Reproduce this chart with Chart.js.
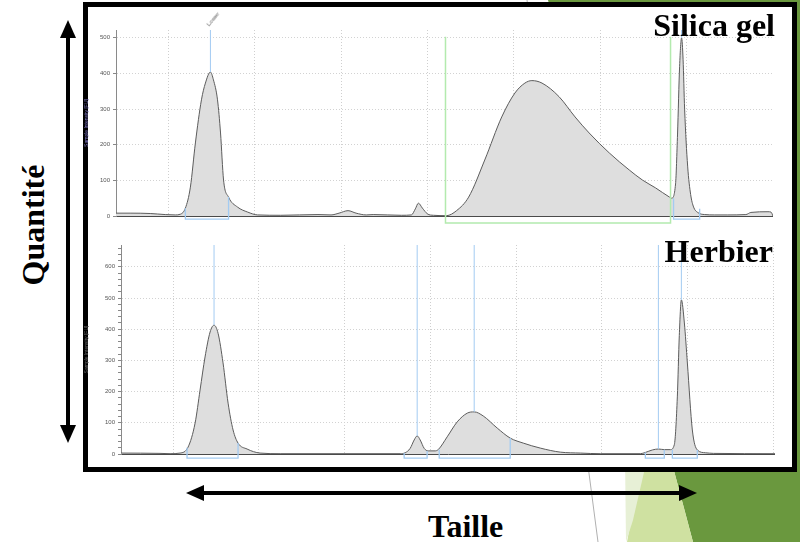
<!DOCTYPE html>
<html>
<head>
<meta charset="utf-8">
<script src="https://cdn.jsdelivr.net/npm/chart.js"></script>
<style>
  html, body { margin: 0; padding: 0; background: #fff; }
  #page { position: relative; width: 800px; height: 542px; overflow: hidden; }
  #bg, #arrows { position: absolute; left: 0; top: 0; }
  #frame { position: absolute; left: 83px; top: 2px; width: 704px; height: 460px;
           border: 5px solid #000; background: #fff; }
  canvas { position: absolute; }
  .big { position: absolute; font: bold 32px "Liberation Serif", "Times New Roman", serif;
         line-height: 1; color: #000; white-space: nowrap; }
  .tag { position: absolute; font: 6px Arial, sans-serif; color: #666; white-space: nowrap; }
</style>
</head>
<body>
<div id="page">
  <svg id="bg" width="800" height="542">
    <line x1="527" y1="0" x2="598" y2="542" stroke="#b0b0b0" stroke-width="1"/>
    <polygon points="548,0 800,0 800,542 693,542" fill="#6a983e"/>
    <polygon points="654,395 693,542 627,542" fill="#cfe1a1"/>
    <polygon points="625,455 648,455 633,520 626,542" fill="#e7f0d6"/>
  </svg>
  <div id="frame"></div>
  <canvas id="top" width="689" height="218" style="left:84px;top:8px"></canvas>
  <canvas id="bottom" width="691" height="234" style="left:84px;top:230px"></canvas>
  <span class="tag" style="left:213px;top:19px;transform:translate(-50%,-50%) rotate(-50deg);">Lower</span>
  <div class="big" style="right:25px;top:9px;">Silica gel</div>
  <div class="big" style="right:27px;top:235px;">Herbier</div>
  <div class="big" style="left:428px;top:510px;">Taille</div>
  <div class="big" style="left:33px;top:225px;transform:translate(-50%,-50%) rotate(-90deg);">Quantité</div>
  <svg id="arrows" width="800" height="542">
    <line x1="68" y1="34" x2="68" y2="429" stroke="#000" stroke-width="4"/>
    <polygon points="68,20 60,38 76,38" fill="#000"/>
    <polygon points="68,443 60,425 76,425" fill="#000"/>
    <line x1="200" y1="493" x2="683" y2="493" stroke="#000" stroke-width="4"/>
    <polygon points="186,493 204,485 204,501" fill="#000"/>
    <polygon points="697,493 679,485 679,501" fill="#000"/>
  </svg>
</div>
<script>
// size axis positions (arbitrary run units) and intensities [FU]
const topSize = [-0.605, -0.442, -0.209, -0.035, 0.081, 0.140, 0.198, 0.256, 0.314, 0.384, 0.430, 0.488, 0.523, 0.570, 0.605, 0.640, 0.698, 0.802, 0.919, 1.035, 1.302, 1.733, 1.884, 1.977, 2.081, 2.174, 2.291, 2.372, 2.698, 2.814, 2.860, 2.895, 2.942, 3.000, 3.070, 3.221, 3.337, 3.477, 3.663, 3.860, 4.012, 4.128, 4.209, 4.326, 4.523, 4.709, 4.872, 5.105, 5.337, 5.488, 5.640, 5.802, 5.826, 5.872, 5.895, 5.919, 5.942, 5.959, 5.977, 6.012, 6.047, 6.081, 6.128, 6.209, 6.326, 6.477, 6.686, 6.744, 6.942, 6.977, 7.0];
const topSignal = [8, 8, 7, 4, 3, 5, 22, 81, 205, 326, 373, 404, 382, 326, 233, 101, 53, 25, 11, 3, 2, 4, 3, 8, 15, 8, 3, 4, 2, 3, 20, 36, 22, 6, 2, 1, 15, 53, 157, 278, 345, 373, 380, 373, 335, 278, 233, 177, 129, 101, 79, 53, 50, 90, 230, 420, 500, 440, 300, 140, 60, 25, 10, 4, 3, 3, 4, 10, 12, 11, 0];

const botSize = [-0.607, -0.152, -0.035, 0.082, 0.175, 0.257, 0.315, 0.373, 0.432, 0.478, 0.525, 0.583, 0.642, 0.700, 0.758, 0.863, 1.015, 1.249, 2.649, 2.707, 2.765, 2.812, 2.847, 2.882, 2.929, 2.975, 3.057, 3.092, 3.197, 3.314, 3.431, 3.512, 3.617, 3.781, 3.932, 4.084, 4.282, 4.516, 4.749, 4.982, 5.449, 5.508, 5.590, 5.660, 5.729, 5.799, 5.846, 5.881, 5.904, 5.928, 5.963, 5.998, 6.056, 6.114, 6.208, 6.301, 7.02];
const botSignal = [3, 2, 1, 3, 22, 99, 205, 311, 391, 413, 387, 292, 163, 77, 35, 16, 3, 1, 1, 4, 18, 45, 58, 45, 18, 10, 10, 14, 55, 103, 131, 135, 122, 83, 51, 35, 19, 6, 3, 1, 1, 5, 13, 16, 14, 14, 30, 183, 380, 494, 420, 292, 77, 13, 4, 2, 1];

// peak markers: position and the height where the marker line starts
const topMarkers = [0.488, 5.942];
const topMarkerPeaks = [404, 500];
const botMarkers = [0.478, 2.847, 3.512, 5.660, 5.928];
const botMarkerPeaks = [413, 58, 135, 16, 494];

// integration brackets: start, end, signal at start, signal at end
const topBrackets = [[0.198, 0.698, 22, 53], [5.849, 6.151, 50, 20]];
const botBrackets = [[0.163, 0.758, 20, 35], [2.695, 2.963, 3, 10], [3.104, 3.932, 14, 51], [5.508, 5.729, 5, 14], [5.823, 6.114, 14, 13]];
const topRegion = [3.209, 5.814, 503];

const xGrid = [0, 1, 2, 3, 4, 5, 6, 7];
const topYTicks = [0, 100, 200, 300, 400, 500];
const botYTicks = [];
for (let v = 0; v <= 660; v += 20) botYTicks.push(v);

const TRACE = '#5c5c5c', FILL = '#dedede', BLUE = '#a3cbf2', GREEN = '#b3eaae';

function lineSet(points, color, width, clip) {
  return { data: points, borderColor: color, borderWidth: width, pointRadius: 0,
           fill: false, tension: 0, clip: clip ? undefined : false };
}

function panel(id, o) {
  const sets = [];
  o.brackets.forEach(b => {
    sets.push(lineSet([{x: b[0], y: b[2]}, {x: b[0], y: o.low}, {x: b[1], y: o.low}, {x: b[1], y: b[3]}], BLUE, 1.3, false));
  });
  if (o.region) {
    const r = o.region;
    sets.push(lineSet([{x: r[0], y: r[2]}, {x: r[0], y: o.low * 2.3}, {x: r[1], y: o.low * 2.3}, {x: r[1], y: r[2]}], GREEN, 1.5, false));
  }
  o.markers.forEach((m, i) => {
    sets.push(lineSet([{x: m, y: o.peaks[i]}, {x: m, y: o.yMax}], BLUE, 1, true));
  });
  sets.push({
    data: o.size.map((x, i) => ({x: x, y: o.signal[i]})),
    borderColor: TRACE, borderWidth: 1, backgroundColor: FILL, fill: 'origin',
    pointRadius: 0, cubicInterpolationMode: 'monotone'
  });

  new Chart(document.getElementById(id), {
    type: 'line',
    data: { datasets: sets },
    options: {
      responsive: false,
      animation: false,
      devicePixelRatio: 1,
      layout: { padding: { top: o.padTop, bottom: 10, left: 0, right: 0 } },
      plugins: { legend: { display: false }, tooltip: { enabled: false } },
      scales: {
        x: {
          type: 'linear', min: o.xMin, max: o.xMax,
          afterBuildTicks: s => { s.ticks = xGrid.map(v => ({value: v})); },
          afterFit: s => { s.height = 0; },
          ticks: { display: false },
          grid: { color: '#cfcfcf', drawTicks: false },
          border: { display: true, color: '#4a4a4a', width: 1, dash: [1, 2] }
        },
        y: {
          min: 0, max: o.yMax,
          afterBuildTicks: s => { s.ticks = o.yTicks.map(v => ({value: v})); },
          afterFit: s => { s.width = o.axisWidth; },
          ticks: {
            font: { size: 6, family: 'Arial' }, color: '#555', padding: 3, autoSkip: false,
            callback: v => (v % 100 === 0 ? v : '')
          },
          grid: {
            color: c => (c.tick && c.tick.value % 100 === 0 ? '#d2d2d2' : 'rgba(0,0,0,0)'),
            tickLength: 3, tickColor: '#888'
          },
          border: { color: '#8a8a8a', dash: [1, 2] },
          title: { display: true, text: 'Sample Intensity [FU]', color: o.titleColor,
                   font: { size: 5, family: 'Arial' }, padding: 0 }
        }
      }
    }
  });
}

panel('top', {
  size: topSize, signal: topSignal, markers: topMarkers, peaks: topMarkerPeaks,
  brackets: topBrackets, region: topRegion, low: -8.5, yMax: 522, yTicks: topYTicks,
  xMin: -0.605, xMax: 7.0, padTop: 22, axisWidth: 32, titleColor: '#8078c8'
});

panel('bottom', {
  size: botSize, signal: botSignal, markers: botMarkers, peaks: botMarkerPeaks,
  brackets: botBrackets, region: null, low: -13, yMax: 670, yTicks: botYTicks,
  xMin: -0.607, xMax: 7.02, padTop: 15, axisWidth: 37, titleColor: '#666'
});
</script>
</body>
</html>
